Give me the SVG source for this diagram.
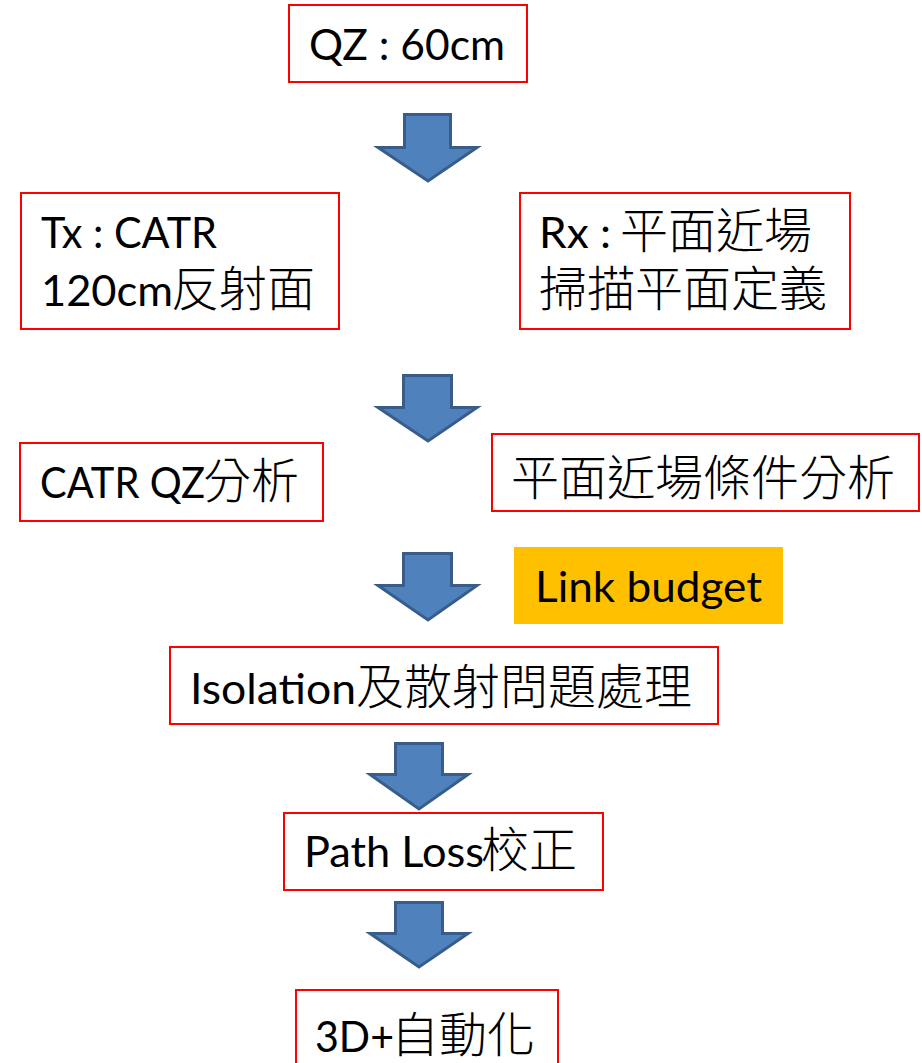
<svg xmlns="http://www.w3.org/2000/svg" width="922" height="1063" viewBox="0 0 922 1063">
<style>
.box{fill:#ffffff;stroke:#ff0000;stroke-width:2}
.hl{fill:#ffc000}
.t{fill:#000000}
.lat{font-family:Lato,"Noto Sans CJK TC",sans-serif;font-size:42px}
.cjk{font-family:"Noto Sans CJK TC",sans-serif;font-size:48px;font-weight:300}
.arrow{fill:#4f81bd;stroke:#385d8a;stroke-width:3;stroke-linejoin:miter}
</style>
<g id="connectors">
<path class="arrow" d="M404.5,114.5 H450.5 V147.5 H477 L428,181 L378,147.5 H404.5 Z"/>
<path class="arrow" d="M403.5,375.5 H451.5 V407.5 H477 L428,441 L378,407.5 H403.5 Z"/>
<path class="arrow" d="M403.5,553.5 H451.5 V585.5 H477 L428,620 L378,585.5 H403.5 Z"/>
<path class="arrow" d="M395.5,743.5 H442.5 V774.5 H468 L419,809 L370,774.5 H395.5 Z"/>
<path class="arrow" d="M395.5,902.5 H442.5 V933.5 H468 L419,967 L370,933.5 H395.5 Z"/>
</g>
<g id="qz">
<rect class="box" x="289" y="5" width="238" height="77"/>
<text class="t lat" x="309" y="60" textLength="196" lengthAdjust="spacingAndGlyphs">QZ : 60cm</text>
</g>
<g id="tx">
<rect class="box" x="21" y="193" width="318" height="136"/>
<text class="t"><tspan class="lat" x="41" y="248" textLength="176" lengthAdjust="spacingAndGlyphs">Tx : CATR</tspan><tspan class="lat" x="41" y="306" textLength="132" lengthAdjust="spacingAndGlyphs">120cm</tspan><tspan class="cjk" x="171" y="306">反射面</tspan></text>
</g>
<g id="rx">
<rect class="box" x="520" y="193" width="330" height="136"/>
<text class="t"><tspan class="lat" x="539" y="248" textLength="72" lengthAdjust="spacingAndGlyphs">Rx :</tspan><tspan class="cjk" x="620" y="248">平面近場</tspan><tspan class="cjk" x="539" y="306">掃描平面定義</tspan></text>
</g>
<g id="catr-qz">
<rect class="box" x="20" y="443" width="303" height="78"/>
<text class="t"><tspan class="lat" x="40" y="498" textLength="165" lengthAdjust="spacingAndGlyphs">CATR QZ</tspan><tspan class="cjk" x="203" y="498">分析</tspan></text>
</g>
<g id="nearfield">
<rect class="box" x="492" y="434" width="427" height="77"/>
<text class="t cjk" x="511" y="495">平面近場條件分析</text>
</g>
<g id="link-budget">
<rect class="hl" x="514" y="547" width="269" height="77"/>
<text class="t lat" x="535" y="602" textLength="227" lengthAdjust="spacingAndGlyphs">Link budget</text>
</g>
<g id="isolation">
<rect class="box" x="170" y="647" width="548" height="77"/>
<text class="t"><tspan class="lat" x="190" y="704" textLength="166" lengthAdjust="spacingAndGlyphs">Isolation</tspan><tspan class="cjk" x="356" y="704">及散射問題處理</tspan></text>
</g>
<g id="pathloss">
<rect class="box" x="284" y="813" width="319" height="77"/>
<text class="t"><tspan class="lat" x="304" y="867" textLength="180" lengthAdjust="spacingAndGlyphs">Path Loss</tspan><tspan class="cjk" x="481" y="867">校正</tspan></text>
</g>
<g id="auto3d">
<rect class="box" x="296" y="990" width="262" height="80"/>
<text class="t"><tspan class="lat" x="315" y="1052" textLength="79" lengthAdjust="spacingAndGlyphs">3D+</tspan><tspan class="cjk" x="391" y="1052">自動化</tspan></text>
</g>
</svg>
